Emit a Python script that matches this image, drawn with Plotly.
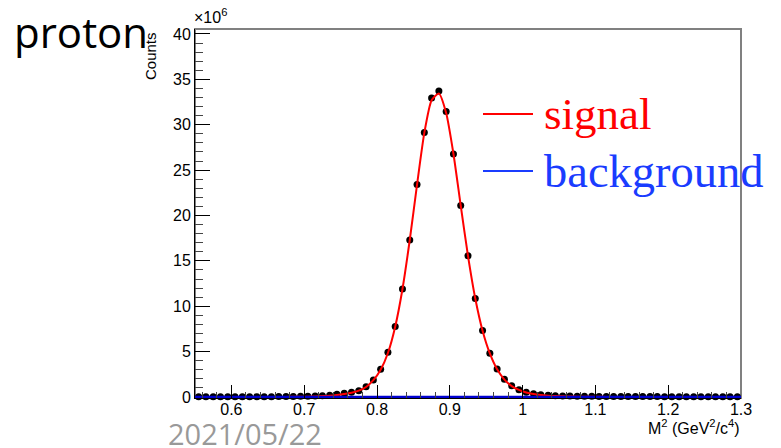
import plotly.graph_objects as go

# ---------------- data (counts in units of 10^6) ----------------
bin_centers = [0.555, 0.565, 0.575, 0.585, 0.595, 0.605, 0.615, 0.625, 0.635, 0.645,
               0.655, 0.665, 0.675, 0.685, 0.695, 0.705, 0.715, 0.725, 0.735, 0.745,
               0.755, 0.765, 0.775, 0.785, 0.795, 0.805, 0.815, 0.825, 0.835, 0.845,
               0.855, 0.865, 0.875, 0.885, 0.895, 0.905, 0.915, 0.925, 0.935, 0.945,
               0.955, 0.965, 0.975, 0.985, 0.995, 1.005, 1.015, 1.025, 1.035, 1.045,
               1.055, 1.065, 1.075, 1.085, 1.095, 1.105, 1.115, 1.125, 1.135, 1.145,
               1.155, 1.165, 1.175, 1.185, 1.195, 1.205, 1.215, 1.225, 1.235, 1.245,
               1.255, 1.265, 1.275, 1.285, 1.295]

counts = [0.02, 0.02, 0.02, 0.02, 0.03, 0.03, 0.03, 0.03, 0.04, 0.04,
          0.04, 0.05, 0.05, 0.06, 0.07, 0.08, 0.10, 0.14, 0.20, 0.30,
          0.41, 0.52, 0.69, 1.13, 1.87, 3.05, 4.92, 7.78, 11.89, 17.29,
          23.42, 29.14, 32.95, 33.72, 31.45, 26.79, 21.10, 15.56, 10.86, 7.34,
          4.81, 3.08, 1.95, 1.24, 0.80, 0.52, 0.36, 0.26, 0.19, 0.15,
          0.12, 0.10, 0.09, 0.08, 0.07, 0.06, 0.06, 0.06, 0.05, 0.05,
          0.05, 0.05, 0.05, 0.05, 0.04, 0.04, 0.04, 0.04, 0.04, 0.04,
          0.04, 0.04, 0.04, 0.04, 0.04]

signal = [0.00, 0.00, 0.00, 0.00, 0.00, 0.00, 0.00, 0.00, 0.00, 0.01,
          0.01, 0.01, 0.01, 0.02, 0.03, 0.04, 0.06, 0.10, 0.15, 0.23,
          0.34, 0.48, 0.70, 1.10, 1.85, 3.00, 4.85, 7.75, 11.90, 17.30,
          23.40, 29.10, 32.70, 33.45, 31.30, 26.80, 21.10, 15.55, 10.85, 7.30,
          4.80, 3.05, 1.92, 1.20, 0.78, 0.50, 0.33, 0.22, 0.15, 0.10,
          0.07, 0.05, 0.04, 0.03, 0.02, 0.02, 0.01, 0.01, 0.01, 0.01,
          0.00, 0.00, 0.00, 0.00, 0.00, 0.00, 0.00, 0.00, 0.00, 0.00,
          0.00, 0.00, 0.00, 0.00, 0.00]

background_x = [0.55, 1.30]
background = [0.0, 0.0]

x_range = [0.55, 1.30]
y_range = [-0.11, 40.55]
y_ticks = [0, 5, 10, 15, 20, 25, 30, 35, 40]
x_ticks = [0.6, 0.7, 0.8, 0.9, 1.0, 1.1, 1.2, 1.3]
x_tick_labels = ["0.6", "0.7", "0.8", "0.9", "1", "1.1", "1.2", "1.3"]

# ---------------- figure ----------------
W, H = 781, 448
L, R, T, B = 195, 40, 29, 50
PW, PH = W - L - R, H - T - B


def px(xp):
    return (xp - L) / PW


def py(yp):
    return (H - B - yp) / PH


fig = go.Figure()

fig.add_trace(go.Scatter(
    x=bin_centers, y=counts, mode="markers",
    marker=dict(color="black", size=7, line=dict(width=0)),
    showlegend=False, cliponaxis=False))

fig.add_trace(go.Scatter(
    x=bin_centers, y=signal, mode="lines",
    line=dict(color="#ff0000", width=2, shape="spline", smoothing=0.6),
    showlegend=False))

fig.add_trace(go.Scatter(
    x=background_x, y=background, mode="lines",
    line=dict(color="#0000d0", width=2.5),
    showlegend=False, cliponaxis=False))

sans = "Liberation Sans, Arial, sans-serif"
serif = "Liberation Serif, Times New Roman, serif"
cal = "Open Sans, Noto Sans, sans-serif"

fig.update_layout(
    width=W, height=H,
    margin=dict(l=L, r=R, t=T, b=B, pad=0),
    paper_bgcolor="white", plot_bgcolor="white",
    showlegend=False,
    font=dict(family=sans, size=16, color="black"),
    xaxis=dict(
        range=x_range, tickvals=x_ticks, ticktext=x_tick_labels,
        ticks="inside", ticklen=13, tickwidth=1, tickcolor="black",
        minor=dict(dtick=0.02, tick0=0.6, ticks="inside", ticklen=6,
                   tickcolor="#444444", tickwidth=1),
        showline=True, linecolor="black", linewidth=1,
        showgrid=False, zeroline=False,
        tickfont=dict(family=sans, size=16, color="black"),
        ticklabelstandoff=-3,
        layer="above traces",
    ),
    yaxis=dict(
        range=y_range, tickvals=y_ticks,
        ticks="inside", ticklen=15, tickwidth=1, tickcolor="black",
        minor=dict(dtick=1, tick0=0, ticks="inside", ticklen=8,
                   tickcolor="#444444", tickwidth=1),
        showline=True, linecolor="black", linewidth=1,
        showgrid=False, zeroline=False,
        tickfont=dict(family=sans, size=16, color="black"),
        layer="above traces",
    ),
    shapes=[
        dict(type="rect", xref="paper", yref="paper", x0=0, x1=1, y0=0, y1=1,
             line=dict(color="#808080", width=2), layer="below"),
        dict(type="line", xref="paper", yref="paper",
             x0=px(483), x1=px(533), y0=py(114), y1=py(114),
             line=dict(color="#ff0000", width=2)),
        dict(type="line", xref="paper", yref="paper",
             x0=px(483), x1=px(533), y0=py(171), y1=py(171),
             line=dict(color="#1a3cff", width=2)),
    ],
    annotations=[
        dict(text="signal", xref="paper", yref="paper", x=px(542), y=py(114),
             xanchor="left", yanchor="middle", showarrow=False,
             font=dict(family=serif, size=45, color="#ff0000")),
        dict(text="background", xref="paper", yref="paper", x=px(542), y=py(171),
             xanchor="left", yanchor="middle", showarrow=False,
             font=dict(family=serif, size=46.5, color="#1a3cff")),
        dict(text="proton", xref="paper", yref="paper", x=px(12), y=py(31),
             xanchor="left", yanchor="middle", showarrow=False,
             font=dict(family=cal, size=42, color="black")),
        dict(text="2021/05/22", xref="paper", yref="paper", x=px(166), y=py(433),
             xanchor="left", yanchor="middle", showarrow=False,
             font=dict(family=cal, size=29, color="#999999")),
        dict(text="\u00d710<sup>6</sup>", xref="paper", yref="paper", x=px(192), y=py(16),
             xanchor="left", yanchor="middle", showarrow=False,
             font=dict(family=sans, size=16, color="black")),
        dict(text="Counts", xref="paper", yref="paper", x=px(150), y=py(30),
             xanchor="center", yanchor="top", textangle=-90, showarrow=False,
             font=dict(family=sans, size=15, color="black")),
        dict(text="M<sup>2</sup> (GeV<sup>2</sup>/c<sup>4</sup>)", xref="paper", yref="paper",
             x=px(742), y=py(427), xanchor="right", yanchor="middle", showarrow=False,
             font=dict(family=sans, size=16, color="black")),
    ],
)

fig.write_html("out.html")
